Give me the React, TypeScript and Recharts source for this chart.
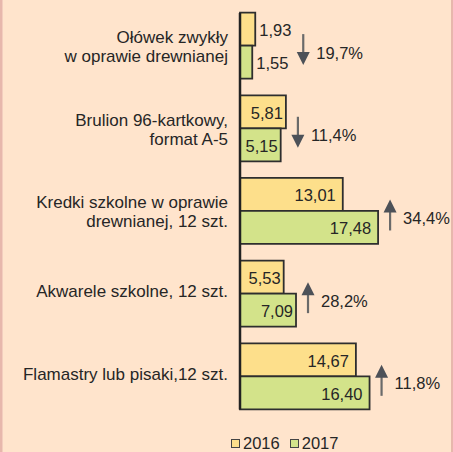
import React from "react";
import { BarChart, Bar, XAxis, YAxis, Legend, LabelList, ReferenceLine } from "recharts";

const categories = [
  "Ołówek zwykły\nw oprawie drewnianej",
  "Brulion 96-kartkowy,\nformat A-5",
  "Kredki szkolne w oprawie\ndrewnianej, 12 szt.",
  "Akwarele szkolne, 12 szt.",
  "Flamastry lub pisaki,12 szt.",
];
const values2016 = [1.93, 5.81, 13.01, 5.53, 14.67];
const values2017 = [1.55, 5.15, 17.48, 7.09, 16.4];
const changePct = [19.7, 11.4, 34.4, 28.2, 11.8];
const seriesNames = ["2016", "2017"];

const data = categories.map((c, i) => ({
  name: c,
  y2016: values2016[i],
  y2017: values2017[i],
}));

const FONT = "'Liberation Sans', Arial, sans-serif";
const TXT = "#262626";
const YEL = "#FDDF8B";
const GRN = "#D3E38A";
const BG = "#FFE4CC";
const STROKE = "#2e2e2e";

const fmt = (v: number) => v.toFixed(2).replace(".", ",");
const fmtPct = (v: number) => v.toFixed(1).replace(".", ",") + "%";

const CategoryTick = (props: any) => {
  const { x, y, payload } = props;
  const lines = String(payload.value).split("\n");
  const offs = lines.length === 1 ? [-2] : [-8.5, 10.5];
  return (
    <g>
      {lines.map((l, i) => (
        <text
          key={i}
          x={x}
          y={y + offs[i]}
          textAnchor="end"
          dominantBaseline="central"
          fontSize={17}
          fontFamily={FONT}
          fill={TXT}
        >
          {l}
        </text>
      ))}
    </g>
  );
};

const ValueLabel = (props: any) => {
  const { x, y, width, height, value } = props;
  const small = value < 3;
  const pad = width < 60 ? 3 : 7;
  return (
    <text
      x={small ? x + width + 4 : x + width - pad}
      y={y + height / 2 + 1}
      textAnchor={small ? "start" : "end"}
      dominantBaseline="central"
      fontSize={16.5}
      fontFamily={FONT}
      fill={TXT}
    >
      {fmt(value)}
    </text>
  );
};

const ChangeLabel = (props: any) => {
  const { x, y, width, index } = props;
  const v16 = values2016[index];
  const v17 = values2017[index];
  const pxPerUnit = width / v17;
  const maxV = Math.max(v16, v17);
  let extent = x + maxV * pxPerUnit;
  if (maxV < 3) extent += 36;
  const ax = extent + 12;
  const cy = y + 4; // y = top of 2017 bar = group center
  const up = v17 > v16;
  const top = cy - 15.5;
  const bot = cy + 15.5;
  const head = 13;
  return (
    <g>
      {up ? (
        <>
          <line x1={ax} y1={top + head - 1} x2={ax} y2={bot} stroke="#6a6a6a" strokeWidth={2.2} />
          <polygon points={`${ax - 6.5},${top + head} ${ax + 6.5},${top + head} ${ax},${top}`} fill="#4d5158" />
        </>
      ) : (
        <>
          <line x1={ax} y1={top} x2={ax} y2={bot - head + 1} stroke="#6a6a6a" strokeWidth={2.2} />
          <polygon points={`${ax - 6.5},${bot - head} ${ax + 6.5},${bot - head} ${ax},${bot}`} fill="#4d5158" />
        </>
      )}
      <text
        x={ax + 13}
        y={y + 7}
        textAnchor="start"
        dominantBaseline="central"
        fontSize={16.5}
        fontFamily={FONT}
        fill={TXT}
      >
        {fmtPct(changePct[index])}
      </text>
    </g>
  );
};

const LegendContent = () => (
  <div style={{ height: 34, position: "relative", fontFamily: FONT }}>
    <div
      style={{
        position: "absolute",
        left: 231,
        top: 17,
        display: "flex",
        alignItems: "center",
        fontSize: 16.5,
        color: TXT,
        lineHeight: "17px",
      }}
    >
      {[YEL, GRN].map((c, i) => (
        <div key={i} style={{ display: "flex", alignItems: "center", marginRight: 10 }}>
          <div
            style={{
              width: 7,
              height: 7,
              background: c,
              border: "1px solid #444",
              marginRight: 3,
            }}
          />
          <span>{seriesNames[i]}</span>
        </div>
      ))}
    </div>
  </div>
);

const AxisLineShape = (props: any) => {
  const { x1, y1, x2, y2 } = props;
  const ya = Math.min(y1, y2);
  const yb = Math.max(y1, y2);
  return <line x1={x1} y1={ya + 8.4} x2={x2} y2={yb - 8.4} stroke="#222" strokeWidth={2.5} />;
};

export default function App() {
  return (
    <div
      style={{
        position: "absolute",
        left: 0,
        top: 0,
        width: 453,
        height: 452,
        background: BG,
        overflow: "hidden",
      }}
    >
      <div style={{ position: "absolute", left: 0, top: 0, width: 2, height: 452, background: "#E7B7AC" }} />
      <div style={{ position: "absolute", left: 2, top: 0, width: 1, height: 452, background: "#F3CDBE" }} />
      <div style={{ position: "absolute", right: 0, top: 0, width: 2, height: 452, background: "#E7B7AC" }} />
      <BarChart
        width={453}
        height={452}
        data={data}
        layout="vertical"
        margin={{ top: 4.6, right: 15.5, bottom: 0, left: 0 }}
        barGap={0}
        barSize={33}
      >
        <XAxis type="number" domain={[0, 25]} hide />
        <YAxis
          type="category"
          dataKey="name"
          width={240}
          axisLine={false}
          tickLine={false}
          tickSize={0}
          tickMargin={12}
          tick={<CategoryTick />}
          interval={0}
        />
        <Legend verticalAlign="bottom" align="left" height={34} content={<LegendContent />} />
        <Bar dataKey="y2016" fill={YEL} stroke={STROKE} strokeWidth={1.8} isAnimationActive={false}>
          <LabelList dataKey="y2016" content={<ValueLabel />} />
        </Bar>
        <Bar dataKey="y2017" fill={GRN} stroke={STROKE} strokeWidth={1.8} isAnimationActive={false}>
          <LabelList dataKey="y2017" content={<ValueLabel />} />
          <LabelList dataKey="y2017" content={<ChangeLabel />} />
        </Bar>
        <ReferenceLine x={0} shape={<AxisLineShape />} />
      </BarChart>
    </div>
  );
}
